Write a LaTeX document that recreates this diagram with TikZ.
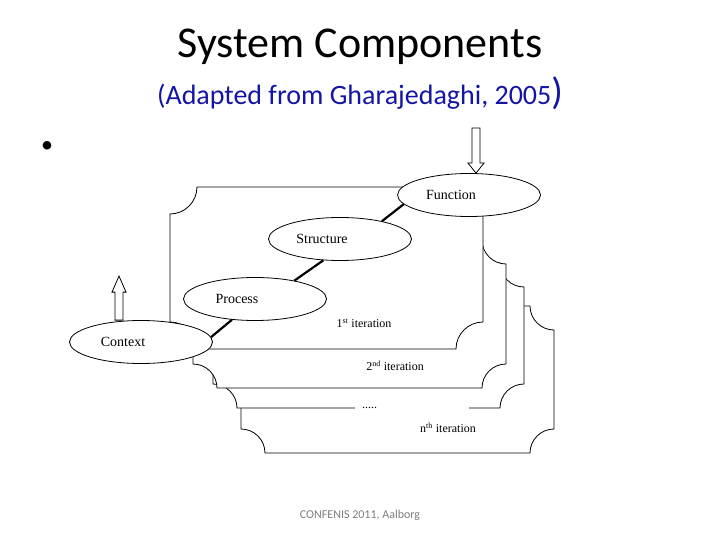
\documentclass[tikz,border=0pt]{standalone}
\usepackage{fontspec}
\setmainfont{Liberation Serif}
\newfontfamily\slidefont{Carlito}
\usepackage{tikz}
\usetikzlibrary{shapes.geometric, positioning}

\definecolor{srcblue}{RGB}{20,20,165}
\definecolor{footgray}{RGB}{125,125,125}

% plate with concave corners: x1, y1, x2, y2, corner radius
\newcommand{\plaque}[5]{%
  \draw[plate] ({#1+#5},#2) -- ({#3-#5},#2)
    .. controls ({#3-#5},{#2+0.55*#5}) and ({#3-0.55*#5},{#2+#5}) .. (#3,{#2+#5})
    -- (#3,{#4-#5})
    .. controls ({#3-0.55*#5},{#4-#5}) and ({#3-#5},{#4-0.55*#5}) .. ({#3-#5},#4)
    -- ({#1+#5},#4)
    .. controls ({#1+#5},{#4-0.55*#5}) and ({#1+0.55*#5},{#4-#5}) .. (#1,{#4-#5})
    -- (#1,{#2+#5})
    .. controls ({#1+0.55*#5},{#2+#5}) and ({#1+#5},{#2+0.55*#5}) .. ({#1+#5},#2)
    -- cycle;}

\begin{document}
\begin{tikzpicture}[x=1pt, y=-1pt,
    plate/.style={draw, fill=white, line width=0.8pt},
    comp/.style={draw, ellipse, fill=white, line width=0.8pt, minimum width=143pt, minimum height=43pt, inner sep=0pt, font=\fontsize{14}{16}\selectfont, execute at end node={\hspace{36pt}}},
    link/.style={line width=2.2pt},
    blockarrow/.style={draw, fill=white, line width=0.8pt},
    iter/.style={font=\fontsize{12}{14}\selectfont, inner sep=1pt}
]
    \useasboundingbox (0,0) rectangle (720,540);

    % Heading
    \node[font=\slidefont\fontsize{44}{50}\selectfont, anchor=base] (title) at (360,58) {System Components};
    \node[font=\slidefont\fontsize{28}{32}\selectfont, text=srcblue, anchor=base] (source) at (360,105) {(Adapted from Gharajedaghi, 2005{\fontsize{38}{40}\selectfont)}};
    \node[font=\slidefont\fontsize{24}{28}\selectfont] (bullet) at (47,147) {\textbullet};

    % Iterations, back to front
    \plaque{241}{306}{554}{453}{24}
    \plaque{213}{263}{524}{408}{24}
    \node[iter, fill=white, anchor=west, text width=100pt, inner xsep=7pt] (iterdots) at (355,408) {.....};
    \plaque{193}{240}{506}{388}{24}
    \plaque{170}{187}{483}{349}{27}

    \node[iter] (iterone) at (364,323) {1\textsuperscript{st} iteration};
    \node[iter] (itertwo) at (395,366) {2\textsuperscript{nd} iteration};
    \node[iter] (itern) at (448,428) {n\textsuperscript{th} iteration};

    % Components
    \node[comp] (func) at (469,195) {Function};
    \node[comp] (struct) at (340,239) {Structure};
    \node[comp] (proc) at (255,299) {Process};
    \node[comp] (ctx) at (141,342) {Context};

    \draw[link] (struct.23) -- (func.188);
    \draw[link] (struct.232) -- (proc.25);
    \draw[link] (proc.222) -- (ctx.4);

    % In and out
    \draw[blockarrow] ([xshift=7pt]func.north) -- ++(-8,-10) -- ++(4,0) -- ++(0,-35) -- ++(8,0) -- ++(0,35) -- ++(4,0) -- cycle;
    \draw[blockarrow] ([xshift=-22pt, yshift=44pt]ctx.north) -- ++(-7,16) -- ++(3,0) -- ++(0,28) -- ++(8,0) -- ++(0,-28) -- ++(3,0) -- cycle;

    \node[font=\slidefont\fontsize{12}{14}\selectfont, text=footgray] (footer) at (360,515) {CONFENIS 2011, Aalborg};
\end{tikzpicture}
\end{document}
